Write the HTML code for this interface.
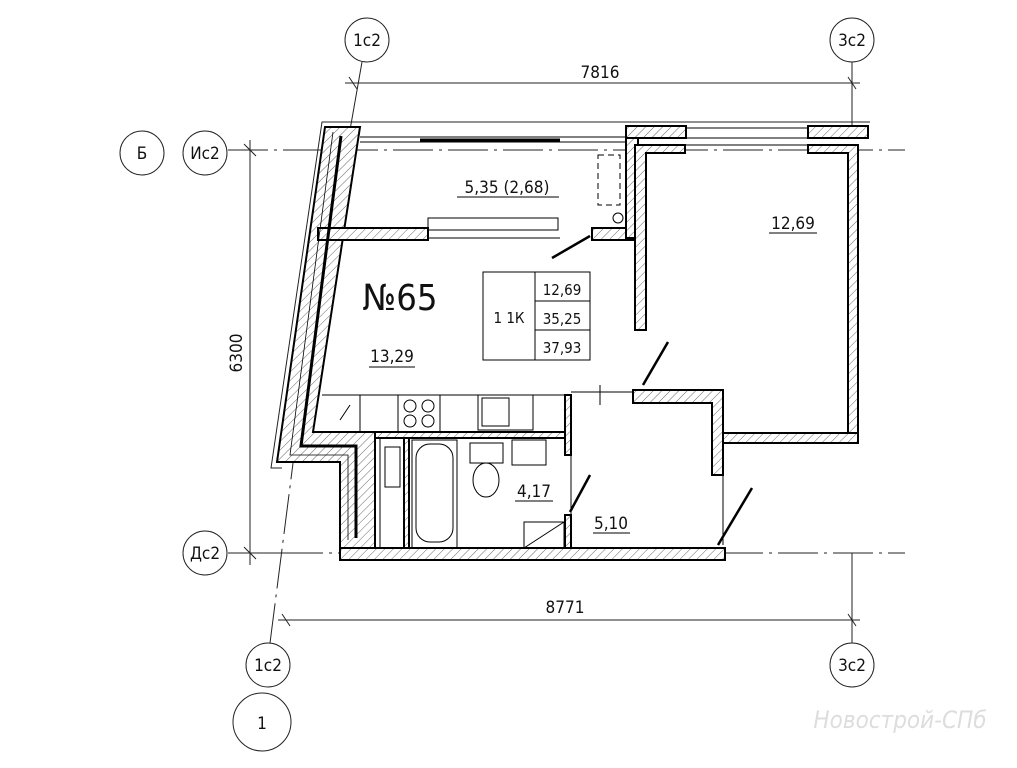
<!DOCTYPE html>
<html><head><meta charset="utf-8"><style>
html,body{margin:0;padding:0;background:#fff;}
svg{display:block}
text{font-family:"DejaVu Sans Condensed","Liberation Sans",sans-serif;fill:#111}
</style></head><body>
<svg width="1017" height="768" viewBox="0 0 1017 768" xmlns="http://www.w3.org/2000/svg">
<defs>
<pattern id="h" width="6" height="6" patternUnits="userSpaceOnUse" patternTransform="rotate(45)">
<rect width="6" height="6" fill="#fff"/><line x1="0" y1="0" x2="0" y2="6" stroke="#444" stroke-width="0.8"/>
</pattern>
</defs>
<g stroke="#222" stroke-width="1" fill="none">
<line x1="228" y1="150" x2="905" y2="150" stroke-dasharray="40 6 3 6"/>
<line x1="228" y1="553" x2="905" y2="553" stroke-dasharray="40 6 3 6"/>
<line x1="852" y1="62" x2="852" y2="135"/>
<line x1="852" y1="553" x2="852" y2="643"/>
<line x1="362" y1="62" x2="350" y2="130"/>
<line x1="270" y1="643" x2="335" y2="135" stroke-dasharray="40 6 3 6"/>
<line x1="345" y1="83" x2="860" y2="83"/>
<line x1="349" y1="77" x2="357" y2="89"/><line x1="848" y1="77" x2="856" y2="89"/>
<line x1="278" y1="620" x2="860" y2="620"/>
<line x1="282" y1="614" x2="290" y2="626"/><line x1="848" y1="614" x2="856" y2="626"/>
<line x1="250" y1="140" x2="250" y2="565"/>
<line x1="244" y1="144" x2="256" y2="156"/><line x1="244" y1="547" x2="256" y2="559"/>
<line x1="238" y1="553" x2="300" y2="553"/>
<circle cx="367" cy="40" r="22"/><circle cx="852" cy="40" r="22"/>
<circle cx="142" cy="153" r="22"/><circle cx="205" cy="153" r="22"/>
<circle cx="205" cy="553" r="22"/><circle cx="268" cy="665" r="22"/>
<circle cx="852" cy="665" r="22"/><circle cx="262" cy="722" r="29"/>
<!-- outer thin lines of left wall / loggia -->
<polyline points="870,122 322,122 271,468 282,468"/>
</g>
<g fill="url(#h)" stroke="#000" stroke-width="2">
<polygon points="325,127 360,127 313,432 375,432 375,548 340,548 340,462 277,462"/>
<rect x="626" y="126" width="60" height="12"/>
<rect x="808" y="126" width="60" height="12"/>
<rect x="318" y="228" width="110" height="12"/>
<rect x="592" y="228" width="46" height="12"/>
<rect x="626" y="138" width="12" height="100"/>
<polygon points="635,145 685,145 685,153 646,153 646,330 635,330"/>
<polygon points="808,145 858,145 858,440 848,440 848,153 808,153"/>
<polygon points="633,390 723,390 723,475 712,475 712,403 633,403"/>
<rect x="723" y="433" width="135" height="10"/>
<rect x="340" y="548" width="385" height="12"/>
<rect x="375" y="432" width="196" height="6"/>
<rect x="565" y="395" width="6" height="60"/>
<rect x="565" y="515" width="6" height="33"/>
<rect x="404" y="438" width="5" height="110"/>
</g>
<g stroke="#000" fill="none" stroke-width="1">
<polyline points="341,136 301,446 356,446 356,538" stroke-width="3"/>
<polyline points="333,132 290,455 348,455 348,540" stroke-width="0.8"/>
<line x1="360" y1="137" x2="626" y2="137"/><line x1="360" y1="142" x2="626" y2="142"/>
<line x1="420" y1="140" x2="560" y2="140" stroke-width="3"/>
<line x1="686" y1="128" x2="808" y2="128"/><line x1="686" y1="138" x2="808" y2="138"/><line x1="686" y1="145" x2="808" y2="145"/>
<rect x="428" y="218" width="130" height="12"/>
<line x1="428" y1="238" x2="560" y2="238"/>
<rect x="598" y="155" width="22" height="50" stroke-dasharray="6 4"/>
<circle cx="618" cy="218" r="5"/>
<line x1="552" y1="258" x2="590" y2="236" stroke-width="2.5"/>
<line x1="643" y1="385" x2="668" y2="342" stroke-width="2.5"/>
<line x1="570" y1="512" x2="590" y2="475" stroke-width="2.5"/>
<line x1="718" y1="545" x2="752" y2="488" stroke-width="2.5"/>
<line x1="723" y1="475" x2="723" y2="545"/>
<line x1="571" y1="455" x2="571" y2="515"/>
<line x1="322" y1="395" x2="565" y2="395"/>
<line x1="360" y1="395" x2="360" y2="432"/>
<rect x="398" y="395" width="42" height="37"/>
<circle cx="410" cy="406" r="6"/><circle cx="428" cy="406" r="6"/>
<circle cx="410" cy="421" r="6"/><circle cx="428" cy="421" r="6"/>
<rect x="478" y="395" width="55" height="35"/><rect x="482" y="398" width="27" height="28"/>
<line x1="340" y1="420" x2="350" y2="405"/>
<rect x="380" y="438" width="24" height="110"/>
<rect x="385" y="447" width="15" height="40"/>
<rect x="412" y="440" width="45" height="108"/>
<rect x="416" y="444" width="37" height="98" rx="14"/>
<rect x="470" y="443" width="33" height="20"/>
<ellipse cx="486" cy="480" rx="13" ry="17"/>
<rect x="512" y="440" width="34" height="25"/>
<rect x="524" y="522" width="40" height="26"/>
<line x1="524" y1="548" x2="564" y2="522"/>
<line x1="600" y1="385" x2="600" y2="405"/>
<line x1="571" y1="392" x2="633" y2="392"/>
<rect x="483" y="272" width="107" height="88"/>
<line x1="535" y1="272" x2="535" y2="360"/>
<line x1="535" y1="301" x2="590" y2="301"/><line x1="535" y1="330" x2="590" y2="330"/>
<line x1="457" y1="197" x2="559" y2="197"/>
<line x1="369" y1="367" x2="415" y2="367"/>
<line x1="769" y1="233" x2="817" y2="233"/>
<line x1="515" y1="501" x2="553" y2="501"/>
<line x1="593" y1="533" x2="630" y2="533"/>
</g>
<g font-size="17" text-anchor="middle">
<text x="367" y="46">1с2</text><text x="852" y="46">3с2</text>
<text x="142" y="159">Б</text><text x="205" y="159">Ис2</text>
<text x="205" y="559">Дс2</text><text x="268" y="671">1с2</text>
<text x="852" y="671">3с2</text><text x="262" y="729">1</text>
<text x="600" y="78">7816</text><text x="565" y="613">8771</text>
<text x="242" y="353" transform="rotate(-90 242 353)">6300</text>
<text x="507" y="193">5,35 (2,68)</text>
<text x="392" y="362">13,29</text>
<text x="793" y="229">12,69</text>
<text x="534" y="497">4,17</text>
<text x="611" y="529">5,10</text>
<text x="509" y="323" font-size="15">1 1К</text>
<text x="562" y="295" font-size="15">12,69</text>
<text x="562" y="324" font-size="15">35,25</text>
<text x="562" y="353" font-size="15">37,93</text>
</g>
<text x="400" y="310" font-size="36" text-anchor="middle">№65</text>
<text x="900" y="728" font-size="24" text-anchor="middle" font-style="italic" style="fill:#ddd">Новострой-СПб</text>
</svg>
</body></html>
